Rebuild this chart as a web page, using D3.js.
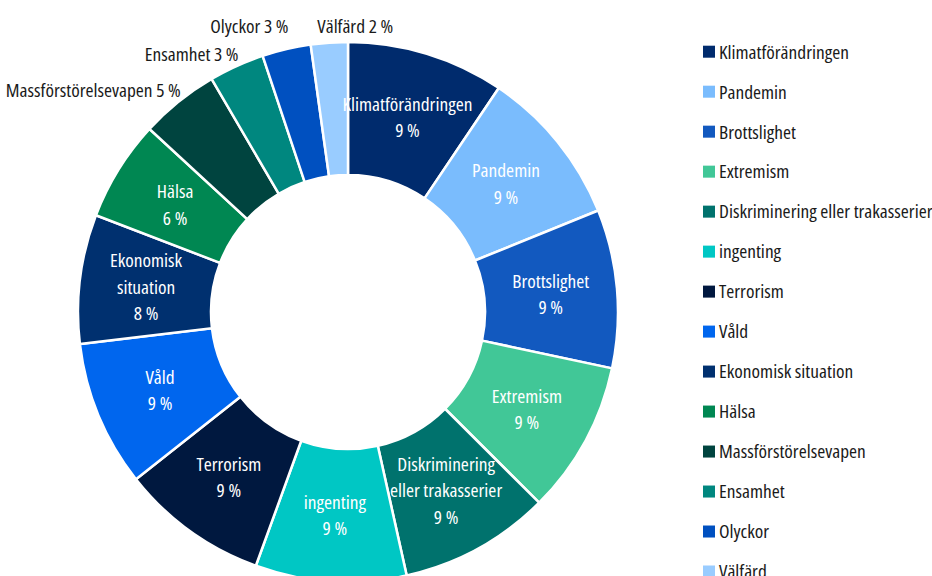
<!DOCTYPE html>
<html lang="sv">
<head>
<meta charset="utf-8">
<title>Oro</title>
<script src="https://d3js.org/d3.v7.min.js"></script>
<style>
  body { margin: 0; background: #fff; }
  svg text { font-family: "Open Sans", "Noto Sans", "DejaVu Sans", sans-serif; font-stretch: 75%; }
</style>
</head>
<body>
<div id="chart"></div>
<script>
// Data
const categories = [
  "Klimatförändringen", "Pandemin", "Brottslighet", "Extremism",
  "Diskriminering eller trakasserier", "ingenting", "Terrorism", "Våld",
  "Ekonomisk situation", "Hälsa", "Massförstörelsevapen", "Ensamhet",
  "Olyckor", "Välfärd"
];
const values = [9.4, 9.4, 9.45, 9.1, 9.0, 9.0, 8.8, 8.7, 7.7, 6.0, 4.7, 3.3, 2.9, 2.2];
const colors = [
  "#002b6d", "#7abcfd", "#1259bf", "#41c797",
  "#00726d", "#00c7c4", "#00183f", "#0066ee",
  "#00306f", "#008752", "#00443f", "#00877f",
  "#0050c0", "#99ccff"
];

// Layout
const width = 932, height = 576;
const cx = 348, cy = 312;
const outerRadius = 270, innerRadius = 137;
const fontSize = 18.5;
const lineHeight = 26.5;

const svg = d3.select("#chart")
  .append("svg")
  .attr("width", width)
  .attr("height", height);

// The original uses a condensed face; squeeze whatever font we get to the same width
const measure = svg.append("text").attr("font-size", fontSize).attr("visibility", "hidden");
const rawWidth = s => { measure.text(s); return measure.node().getComputedTextLength(); };
const squeeze = 130 / rawWidth("Klimatförändringen");
const textWidth = s => rawWidth(s) * squeeze;

function addText(parent, x, y, lines, anchor, fill) {
  const t = parent.append("g")
    .attr("transform", `translate(${x},${y}) scale(${squeeze},1)`)
    .append("text")
    .attr("text-anchor", anchor)
    .attr("font-size", fontSize)
    .attr("fill", fill);
  lines.forEach((l, i) => {
    t.append("tspan")
      .attr("x", 0)
      .attr("y", (i - (lines.length - 1) / 2) * lineHeight)
      .attr("dominant-baseline", "central")
      .text(l);
  });
  return t;
}

const series = categories.map((name, i) => ({ name, value: values[i], color: colors[i] }));
const total = d3.sum(values);
const fmt = v => `${Math.round(v / total * 100)} %`;

const pie = d3.pie().sort(null).value(d => d.value);
const arcs = pie(series);
const arc = d3.arc().innerRadius(innerRadius).outerRadius(outerRadius);

const g = svg.append("g").attr("transform", `translate(${cx},${cy})`);

g.selectAll("path")
  .data(arcs)
  .join("path")
  .attr("d", arc)
  .attr("fill", d => d.data.color)
  .attr("stroke", "#fff")
  .attr("stroke-width", 2.5);

// Inside labels
const isOutside = d => (d.endAngle - d.startAngle) / (2 * Math.PI) < 0.055;
const maxWidth = 120;

function wrap(name) {
  const words = name.split(" ");
  const lines = [];
  let cur = words[0];
  for (let i = 1; i < words.length; i++) {
    const test = cur + " " + words[i];
    if (textWidth(test) > maxWidth) { lines.push(cur); cur = words[i]; }
    else cur = test;
  }
  lines.push(cur);
  return lines;
}

arcs.filter(d => !isOutside(d)).forEach(d => {
  const [x, y] = arc.centroid(d);
  addText(g, x, y, wrap(d.data.name).concat(fmt(d.data.value)), "middle", "#fff");
});

// Outside labels
const outside = arcs.filter(isOutside).map(d => {
  const a = (d.startAngle + d.endAngle) / 2;
  const px = Math.sin(a) * outerRadius, py = -Math.cos(a) * outerRadius;
  const text = `${d.data.name} ${fmt(d.data.value)}`;
  const w = textWidth(text);
  const nearTop = Math.abs(Math.sin(a)) < 0.1;
  const anchor = nearTop ? "start" : "end";
  const x = nearTop ? px - 12 : px + 2;
  const x0 = nearTop ? x : x - w, x1 = nearTop ? x + w : x;
  return { text, anchor, x, y: py - 12, x0, x1 };
});
for (let i = 1; i < outside.length; i++) {
  const p = outside[i - 1], c = outside[i];
  const overlapX = c.x0 < p.x1 && c.x1 > p.x0;
  c.y = Math.min(c.y, p.y - (overlapX ? 28 : 0));
}
outside.forEach(d => addText(g, d.x, d.y, [d.text], d.anchor, "#1a1a1a"));

measure.remove();

// Legend
const legendY = d3.scalePoint()
  .domain(categories)
  .range([51.7, 571.5]);

const legend = svg.append("g").attr("transform", "translate(703,0)");
const items = legend.selectAll("g")
  .data(series)
  .join("g")
  .attr("transform", d => `translate(0,${legendY(d.name)})`);

items.append("rect")
  .attr("x", 0)
  .attr("y", -6)
  .attr("width", 12)
  .attr("height", 12)
  .attr("fill", d => d.color);

items.each(function (d) {
  addText(d3.select(this), 16, 0, [d.name], "start", "#1a1a1a");
});
</script>
</body>
</html>
